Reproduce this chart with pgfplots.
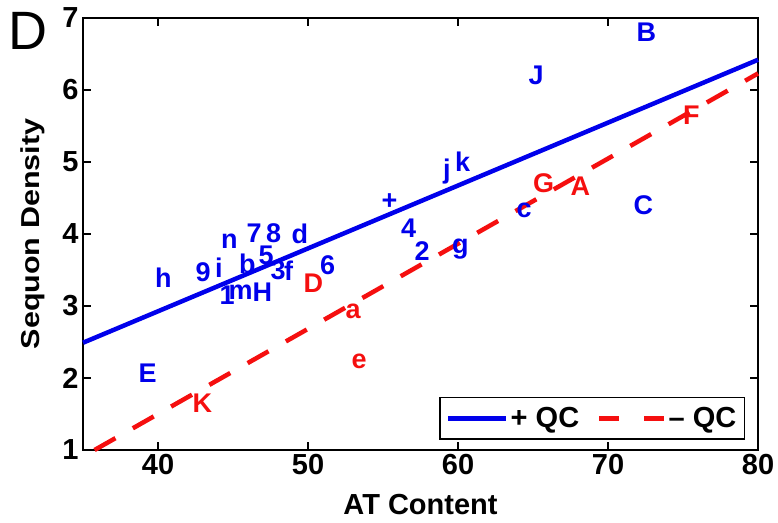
\documentclass[border=0pt]{standalone}
\usepackage{fontspec}
\setmainfont{Liberation Sans}
\usepackage{pgfplots}
\usepackage{pgfplotstable}
\pgfplotsset{compat=1.18}

\definecolor{qcblue}{RGB}{0,0,235}
\definecolor{qcred}{RGB}{245,15,15}

% legend swatches for the two fits
\pgfplotsset{
  plusimg/.style={legend image code/.code={\draw[qcblue, line width=4.5pt] (0pt,0pt) -- (58pt,0pt);}},
  minusimg/.style={legend image code/.code={\draw[qcred, line width=4.5pt, dash pattern=on 20pt off 25pt] (0pt,0pt) -- (65pt,0pt);}},
}

% sample labels placed at (AT content, sequon density)
\pgfplotstableread{
x    y    lab
71.9 6.81 B
64.7 6.21 J
71.7 4.40 C
63.9 4.37 c
59.0 4.90 j
59.8 5.00 k
54.9 4.47 +
56.2 4.08 4
57.1 3.76 2
59.6 3.86 g
48.9 4.00 d
47.2 4.01 8
45.9 4.01 7
44.2 3.93 n
46.7 3.71 5
45.4 3.58 b
43.8 3.53 i
42.5 3.47 9
39.8 3.39 h
47.5 3.50 3
48.4 3.49 f
50.8 3.57 6
44.1 3.15 1
44.7 3.23 m
46.3 3.19 H
38.7 2.07 E
}\pluslabels

\pgfplotstableread{
x    y    lab
75.0 5.65 F
67.5 4.67 A
65.0 4.71 G
49.7 3.32 D
52.5 2.96 a
52.9 2.26 e
42.3 1.65 K
}\minuslabels

% fitted trend lines
\pgfplotstableread{
x     y
35.0  2.49
80.0  6.42
}\plusfit

\pgfplotstableread{
x     y
35.77 1.00
80.0  6.23
}\minusfit

\begin{document}
\begin{tikzpicture}
\begin{axis}[
  scale only axis,
  width=675pt, height=432pt,
  xmin=35, xmax=80, ymin=1, ymax=7,
  xtick={40,50,60,70,80},
  ytick={1,2,3,4,5,6,7},
  axis line style={line width=2.2pt},
  major tick style={line width=2pt, black},
  major tick length=8pt,
  tick align=inside,
  clip=false,
  /pgf/number format/assume math mode=true,
  tick label style={font=\fontsize{29}{32}\selectfont\bfseries},
  xticklabel style={yshift=-1pt},
  yticklabel style={xshift=-1pt},
  xlabel={AT Content},
  ylabel={\scalebox{1}[0.85]{Sequon Density}},
  xlabel style={font=\fontsize{29}{32}\selectfont\bfseries, at={(rel axis cs:0.5,-0.127)}, anchor=center},
  ylabel style={font=\fontsize{30.5}{33}\selectfont\bfseries, at={(rel axis cs:-0.075,0.5)}, anchor=center, rotate=0},
  legend columns=2,
  legend style={
    at={(rel axis cs:0.981,0.023)}, anchor=south east,
    draw=black, line width=1.6pt,
    font=\fontsize{29}{32}\selectfont\bfseries,
    inner xsep=6pt, inner ysep=8pt,
    /tikz/every even column/.append style={column sep=16pt},
  },
  legend cell align=left,
  nodes near coords,
  nodes near coords align={anchor=west},
  every node near coord/.append style={
    anchor=west, inner sep=0pt, text height=19.3pt, text depth=0pt,
    font=\fontsize{27}{30}\selectfont\bfseries},
]
% sample labels
\addplot[draw=none, mark=none, forget plot, nodes near coords, point meta=explicit symbolic,
  every node near coord/.append style={text=qcblue}]
  table[x=x, y=y, meta=lab] {\pluslabels};
\addplot[draw=none, mark=none, forget plot, nodes near coords, point meta=explicit symbolic,
  every node near coord/.append style={text=qcred}]
  table[x=x, y=y, meta=lab] {\minuslabels};

% regression lines
\addplot[qcblue, line width=4.5pt, no markers, nodes near coords={}, plusimg]
  table[x=x, y=y] {\plusfit};
\addlegendentry{+ QC}
\addplot[qcred, line width=4.5pt, no markers, dash pattern=on 24pt off 20pt, nodes near coords={}, minusimg]
  table[x=x, y=y] {\minusfit};
\addlegendentry{– QC}

% panel letter and page frame
\node[anchor=base west, inner sep=0pt, font=\fontsize{54}{60}\selectfont] at (rel axis cs:-0.111,0.926) {D};
\coordinate (bbSW) at (rel axis cs:-0.1230,-0.1667);
\coordinate (bbNE) at (rel axis cs:1.0296,1.0417);
\end{axis}
\pgfresetboundingbox
\path (bbSW) rectangle (bbNE);
\end{tikzpicture}
\end{document}
